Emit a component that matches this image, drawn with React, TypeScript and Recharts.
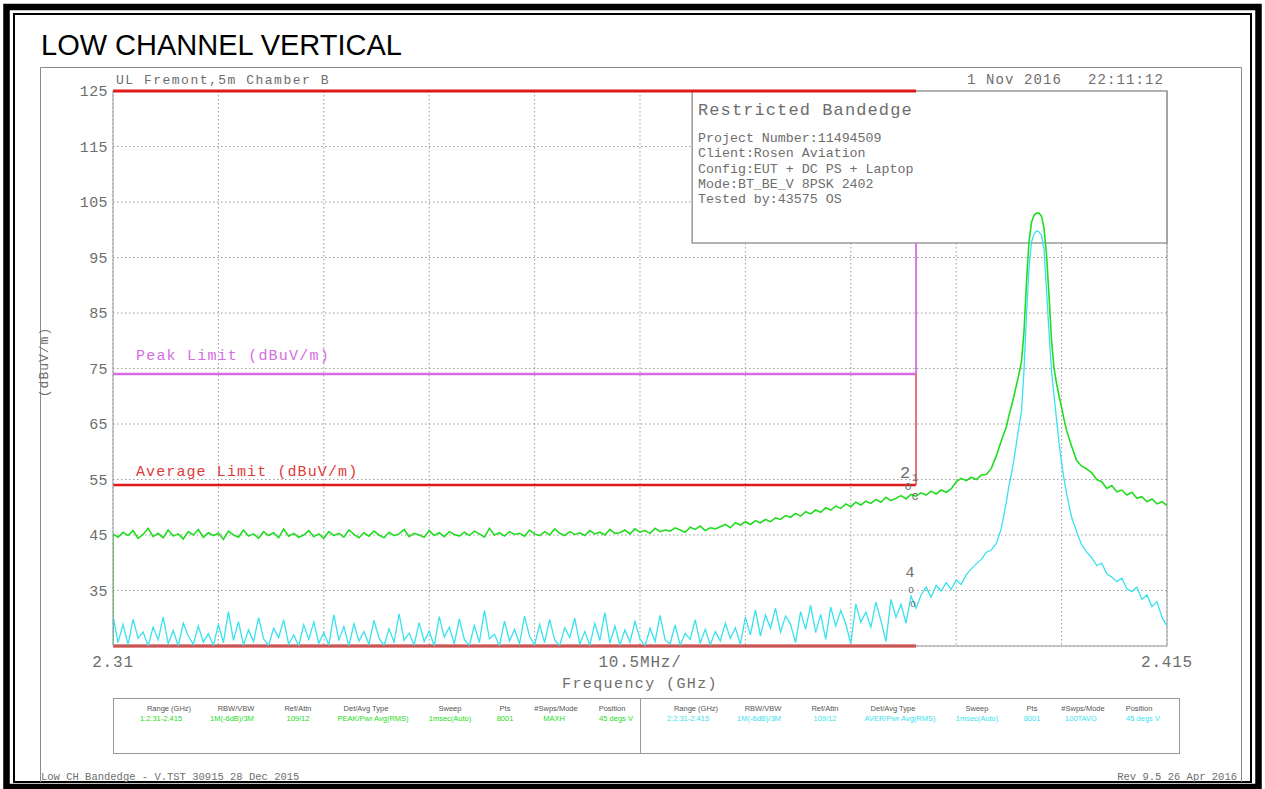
import {
  ComposedChart,
  Line,
  XAxis,
  YAxis,
  CartesianGrid,
  ReferenceLine,
  ReferenceArea,
  ReferenceDot,
} from "recharts";

// sweep frequencies (MHz)
const freqMHz = [
  2310, 2310,
  2310.5, 2311, 2311.5, 2312, 2312.5, 2313, 2313.5, 2314, 2314.5, 2315,
  2315.5, 2316, 2316.5, 2317, 2317.5, 2318, 2318.5, 2319, 2319.5, 2320,
  2320.5, 2321, 2321.5, 2322, 2322.5, 2323, 2323.5, 2324, 2324.5, 2325,
  2325.5, 2326, 2326.5, 2327, 2327.5, 2328, 2328.5, 2329, 2329.5, 2330,
  2330.5, 2331, 2331.5, 2332, 2332.5, 2333, 2333.5, 2334, 2334.5, 2335,
  2335.5, 2336, 2336.5, 2337, 2337.5, 2338, 2338.5, 2339, 2339.5, 2340,
  2340.5, 2341, 2341.5, 2342, 2342.5, 2343, 2343.5, 2344, 2344.5, 2345,
  2345.5, 2346, 2346.5, 2347, 2347.5, 2348, 2348.5, 2349, 2349.5, 2350,
  2350.5, 2351, 2351.5, 2352, 2352.5, 2353, 2353.5, 2354, 2354.5, 2355,
  2355.5, 2356, 2356.5, 2357, 2357.5, 2358, 2358.5, 2359, 2359.5, 2360,
  2360.5, 2361, 2361.5, 2362, 2362.5, 2363, 2363.5, 2364, 2364.5, 2365,
  2365.5, 2366, 2366.5, 2367, 2367.5, 2368, 2368.5, 2369, 2369.5, 2370,
  2370.5, 2371, 2371.5, 2372, 2372.5, 2373, 2373.5, 2374, 2374.5, 2375,
  2375.5, 2376, 2376.5, 2377, 2377.5, 2378, 2378.5, 2379, 2379.5, 2380,
  2380.5, 2381, 2381.5, 2382, 2382.5, 2383, 2383.5, 2384, 2384.5, 2385,
  2385.5, 2386, 2386.5, 2387, 2387.5, 2388, 2388.5, 2389, 2389.5, 2390,
  2390.5, 2391, 2391.5, 2392, 2392.5, 2393, 2393.5, 2394, 2394.5, 2395,
  2395.5, 2396, 2396.5, 2397, 2397.5, 2398, 2398.5, 2399,
  2399.25, 2399.5, 2399.75, 2400, 2400.25, 2400.5, 2400.75, 2401, 2401.25, 2401.5, 2401.75, 2402,
  2402.25, 2402.5, 2402.75, 2403, 2403.25, 2403.5, 2403.75, 2404, 2404.25, 2404.5, 2404.75, 2405,
  2405.5, 2406, 2406.5, 2407, 2407.5, 2408, 2408.5, 2409, 2409.5, 2410,
  2410.5, 2411, 2411.5, 2412, 2412.5, 2413, 2413.5, 2414, 2414.5, 2415,
];

// trace 1: peak detector (dBuV/m)
const peakTrace = [
  25, 45.2,
  44.6, 45.5, 44.9, 45.8, 44.4, 45.1, 46.2, 44.7, 45.3, 44.5,
  45.9, 44.8, 45.2, 44.3, 45.6, 45.0, 46.0, 44.6, 45.4, 44.9,
  45.3, 44.2, 45.7, 45.0, 44.6, 45.9, 44.8, 45.2, 44.4, 45.6,
  44.9, 45.4, 44.5, 46.1, 44.8, 45.3, 44.6, 45.0, 45.8, 44.7,
  45.2, 44.4, 45.6, 44.9, 45.3, 44.6, 45.9, 45.1, 44.5, 45.4,
  44.8, 45.7, 45.0, 44.5, 45.5, 44.9, 45.2, 46.0, 44.7, 45.3,
  45.0, 44.6, 45.8, 44.9, 45.4, 44.7, 45.6, 45.1, 44.8, 45.5,
  44.9, 45.7, 45.2, 44.6, 46.2, 45.0, 45.4, 44.8, 45.6, 45.1,
  45.3, 44.8, 45.9, 45.2, 44.9, 45.6, 45.0, 46.1, 45.3, 44.9,
  45.6, 45.1, 45.4, 44.9, 45.8, 45.2, 45.5, 45.0, 46.0, 45.3,
  45.4, 45.9, 45.2, 46.1, 45.5, 45.8, 45.3, 46.2, 45.6, 45.9,
  45.7, 46.3, 45.9, 45.5, 46.4, 46.0, 46.6, 45.8, 46.3, 46.1,
  46.5, 46.9, 46.3, 47.2, 46.8, 47.4, 46.9, 47.6, 47.2, 47.8,
  47.4, 48.1, 47.8, 48.5, 48.2, 48.9, 48.4, 49.2, 48.8, 49.5,
  49.1, 49.9, 49.5, 50.2, 49.8, 50.6, 50.1, 50.9, 50.4, 51.1,
  50.7, 51.4, 50.9, 51.8, 51.2, 51.6, 52.1, 51.5, 52.3, 52.0,
  52.6, 52.2, 52.9, 52.4, 53.1, 52.7, 53.3, 54.6, 55.2, 54.8,
  55.4, 55.0, 55.8, 55.9, 57.0, 59.3, 62.0, 64.5,
  66.5, 68.2, 70.0, 72.0, 74.0, 76.2, 81.5, 90.5, 97.8, 101.3, 102.6, 103.0,
  103.0, 102.4, 100.3, 95.5, 88.0, 80.0, 75.0, 72.3, 70.0, 68.0, 65.8, 63.8,
  61.0, 58.4, 57.4, 56.9, 56.2, 55.0, 54.6, 53.4, 53.9, 52.8,
  53.1, 52.2, 52.7, 51.6, 51.9, 51.0, 51.5, 50.6, 51.0, 50.3,
];

// trace 2: average detector (dBuV/m)
const avgTrace = [
  25, 30.5,
  25.6, 28.9, 25.2, 29.8, 26.4, 27.5, 25.0, 28.4, 26.1, 30.2,
  25.4, 27.8, 25.0, 29.1, 26.8, 25.3, 28.6, 25.7, 27.2, 25.1,
  28.9, 25.6, 31.2, 26.0, 29.4, 25.2, 27.9, 25.8, 30.1, 26.3,
  25.1, 28.2, 26.5, 29.7, 25.3, 27.0, 25.0, 28.8, 26.2, 29.3,
  25.5, 27.4, 25.2, 30.6, 26.1, 28.5, 25.0, 29.0, 25.9, 27.6,
  25.3, 29.6, 26.4, 25.1, 28.1, 25.7, 30.8, 26.0, 27.3, 25.2,
  29.2, 25.8, 27.7, 25.0, 30.3, 26.6, 28.4, 25.4, 29.9, 26.2,
  25.1, 28.7, 25.6, 31.4, 26.3, 27.1, 25.0, 29.5, 25.9, 28.0,
  25.4, 30.4, 26.7, 25.2, 28.9, 25.6, 29.8, 26.1, 25.0, 28.3,
  26.5, 30.0, 25.3, 27.6, 25.1, 29.1, 26.0, 31.0, 25.5, 28.6,
  25.2, 27.9, 25.7, 29.4, 26.3, 25.0, 28.2, 25.8, 30.5, 26.1,
  25.4, 28.8, 25.1, 27.3, 26.2, 29.7, 25.5, 28.0, 25.2, 27.6,
  25.9, 29.1, 26.4, 28.3, 25.3, 30.2, 27.0, 31.5, 26.8, 30.6,
  28.2, 31.8, 27.5, 30.4, 28.9, 25.6, 31.2, 28.0, 32.3, 27.4,
  30.7, 26.2, 32.0, 28.6, 31.4, 29.0, 25.4, 32.6, 29.3, 31.1,
  28.4, 32.9, 29.6, 25.8, 33.4, 30.2, 32.5, 29.1, 34.0, 31.8,
  34.2, 35.6, 33.8, 35.9, 34.9, 36.4, 35.2, 36.9, 36.1, 37.8,
  38.9, 39.8, 40.6, 41.9, 42.3, 43.5, 46.2, 51.0,
  53.8, 56.0, 58.6, 61.5, 64.5, 67.2, 74.5, 84.5, 93.0, 97.8, 99.2, 99.8,
  99.6, 99.0, 96.5, 89.0, 81.5, 74.5, 70.0, 65.8, 61.5, 58.0, 55.0, 52.4,
  48.2, 45.6, 43.2, 41.9, 40.9, 39.5, 39.9, 38.0, 37.4, 36.6,
  37.2, 35.3, 34.8, 35.6, 33.4, 34.2, 32.1, 33.0, 30.2, 28.6,
];

const xTicks = [2310, 2320.5, 2331, 2341.5, 2352, 2362.5, 2373, 2383.5, 2394, 2404.5, 2415];
const xTickLabels = ["2.31", "", "", "", "", "10.5MHz/", "", "", "", "", "2.415"];
const yTicks = [25, 35, 45, 55, 65, 75, 85, 95, 105, 115, 125];

// limits and restricted band
const bandStart = 2310;
const bandEdge = 2390;
const refLevel = 125;
const floorLevel = 25;
const peakLimit = 74;
const avgLimit = 54;

// info box corner (freq MHz / level)
const infoFreq = 2367.7;
const infoLevel = 97.6;

// marker numbers as they sit on the screen
const markers = [
  { f: 2388.9, v: 56.4, label: "2", size: 17 },
  { f: 2389.9, v: 55.3, label: "1", size: 10 },
  { f: 2389.2, v: 53.8, label: "o", size: 12 },
  { f: 2389.9, v: 52.0, label: "c", size: 12 },
  { f: 2389.4, v: 38.4, label: "4", size: 15 },
  { f: 2389.5, v: 35.2, label: "o", size: 10 },
  { f: 2389.7, v: 32.6, label: "o", size: 10 },
];

const infoLines = [
  "Project Number:11494509",
  "Client:Rosen Aviation",
  "Config:EUT + DC PS + Laptop",
  "Mode:BT_BE_V 8PSK 2402",
  "Tested by:43575 OS",
];
const infoBaselines = [142, 157, 173, 188, 203];

const tableHead = ["Range (GHz)", "RBW/VBW", "Ref/Attn", "Det/Avg Type", "Sweep", "Pts", "#Swps/Mode", "Position"];
const trace1Row = ["1:2.31-2.415", "1M(-6dB)/3M", "109/12", "PEAK/Pwr Avg(RMS)", "1msec(Auto)", "8001", "MAXH", "45 degs V"];
const trace2Row = ["2:2.31-2.415", "1M(-6dB)/3M", "109/12", "AVER/Pwr Avg(RMS)", "1msec(Auto)", "8001", "100TAVG", "45 degs V"];

const data = freqMHz.map((f, i) => ({ f, peak: peakTrace[i], avg: avgTrace[i] }));

const MONO = "'Liberation Mono', 'DejaVu Sans Mono', monospace";
const SANS = "'Liberation Sans', Arial, sans-serif";
const INK = "#6e6e6e";
const GREEN = "#22dc22";
const CYAN = "#38e2ee";
const RED = "#e01818";
const MAGENTA = "#d46ee2";
const FRAME = "#9a9a9a";

const headX = [56, 123, 185, 253, 337, 392, 443, 499];
const valX = [48, 119, 185, 260, 337, 392, 441, 503];

function XTick(props: any) {
  const { x, y, payload } = props;
  const i = xTicks.indexOf(payload.value);
  return (
    <text x={x} y={y} dy={21} textAnchor="middle" fontFamily={MONO} fontSize={16} letterSpacing={0.8} fill={INK}>
      {xTickLabels[i] ?? ""}
    </text>
  );
}

function YTick(props: any) {
  const { x, y, payload } = props;
  if (payload.value === floorLevel) return null;
  return (
    <text x={x} y={y} dy={5} textAnchor="end" fontFamily={MONO} fontSize={15} letterSpacing={0.4} fill={INK}>
      {payload.value}
    </text>
  );
}

function TableHalf({ x0, row, color }: { x0: number; row: string[]; color: string }) {
  return (
    <g fontFamily={SANS} fontSize={7.5}>
      {tableHead.map((t, i) => (
        <text key={"h" + i} x={x0 + headX[i]} y={711} textAnchor="middle" fill="#555">
          {t}
        </text>
      ))}
      {row.map((t, i) => (
        <text key={"v" + i} x={x0 + valX[i]} y={721} textAnchor="middle" fill={color}>
          {t}
        </text>
      ))}
    </g>
  );
}

export default function App() {
  return (
    <div style={{ position: "absolute", left: 0, top: 0, width: 1265, height: 789, background: "#fff" }}>
      <div style={{ position: "absolute", left: 0, top: 0 }}>
        <ComposedChart width={1265} height={789} data={data} margin={{ top: 91, right: 98, bottom: 113, left: 53 }}>
          <CartesianGrid stroke="#9c9c9c" strokeDasharray="1.5 2.5" />
          <XAxis
            type="number"
            dataKey="f"
            domain={[2310, 2415]}
            ticks={xTicks}
            interval={0}
            height={30}
            tickSize={0}
            tickMargin={0}
            tickLine={false}
            axisLine={{ stroke: FRAME }}
            tick={<XTick />}
            allowDataOverflow
          />
          <YAxis
            type="number"
            domain={[floorLevel, refLevel]}
            ticks={yTicks}
            interval={0}
            width={60}
            tickSize={0}
            tickMargin={5}
            tickLine={false}
            axisLine={{ stroke: FRAME }}
            tick={<YTick />}
            allowDataOverflow
          />
          <ReferenceArea
            x1={infoFreq}
            x2={2415}
            y1={infoLevel}
            y2={refLevel}
            fill="#ffffff"
            fillOpacity={1}
            stroke={FRAME}
            strokeWidth={1.5}
          />
          <ReferenceLine x={2415} stroke={FRAME} strokeWidth={1} />
          <ReferenceLine segment={[{ x: bandStart, y: refLevel }, { x: bandEdge, y: refLevel }]} stroke={RED} strokeWidth={3} />
          <ReferenceLine segment={[{ x: bandStart, y: floorLevel }, { x: bandEdge, y: floorLevel }]} stroke={RED} strokeWidth={3} />
          <ReferenceLine segment={[{ x: bandStart, y: peakLimit }, { x: bandEdge, y: peakLimit }]} stroke={MAGENTA} strokeWidth={2.5} />
          <ReferenceLine segment={[{ x: bandEdge, y: peakLimit }, { x: bandEdge, y: infoLevel }]} stroke={MAGENTA} strokeWidth={1.8} />
          <ReferenceLine segment={[{ x: bandStart, y: avgLimit }, { x: bandEdge, y: avgLimit }]} stroke={RED} strokeWidth={2.5} />
          <ReferenceLine segment={[{ x: bandEdge, y: avgLimit }, { x: bandEdge, y: peakLimit }]} stroke="#e06a6a" strokeWidth={1.8} />
          <Line type="linear" dataKey="peak" stroke={GREEN} strokeWidth={1.6} dot={false} isAnimationActive={false} />
          <Line type="linear" dataKey="avg" stroke={CYAN} strokeWidth={1.3} dot={false} isAnimationActive={false} />
          {markers.map((m, i) => (
            <ReferenceDot
              key={i}
              x={m.f}
              y={m.v}
              r={0}
              fill="none"
              stroke="none"
              label={{ value: m.label, position: "center", fill: INK, fontSize: m.size, fontFamily: MONO }}
            />
          ))}
        </ComposedChart>
      </div>

      <svg width={1265} height={789} style={{ position: "absolute", left: 0, top: 0, pointerEvents: "none" }}>
        {/* page frame */}
        <rect x={6.5} y={7} width={1252} height={780} fill="none" stroke="#000" strokeWidth={6.5} />
        <rect x={14} y={14} width={1237} height={768} fill="none" stroke="#000" strokeWidth={2} />
        <path d="M40.5 782 V67.5 H1241.5 V782" fill="none" stroke="#8a8a8a" strokeWidth={1} />

        <text x={41} y={55} fontFamily={SANS} fontSize={29} fill="#000">
          LOW CHANNEL VERTICAL
        </text>

        <g fontFamily={MONO} fill={INK}>
          <text x={116} y={84} fontSize={13} letterSpacing={1.5}>UL Fremont,5m Chamber B</text>
          <text x={967} y={84} fontSize={14} letterSpacing={1.1}>1 Nov 2016</text>
          <text x={1088} y={84} fontSize={14} letterSpacing={1.1}>22:11:12</text>

          <text x={698} y={115} fontSize={17} letterSpacing={1.1}>Restricted Bandedge</text>
          {infoLines.map((t, i) => (
            <text key={i} x={698} y={infoBaselines[i]} fontSize={13.3}>
              {t}
            </text>
          ))}

          <text x={48} y={362} fontSize={13} letterSpacing={1} textAnchor="middle" transform="rotate(-90 48 362)">
            (dBuV/m)
          </text>
          <text x={136} y={360} fontSize={15} letterSpacing={1.2} fill={MAGENTA}>Peak Limit (dBuV/m)</text>
          <text x={136} y={476} fontSize={15} letterSpacing={1.1} fill="#e03a3a">Average Limit (dBuV/m)</text>
          <text x={640} y={688} fontSize={15} letterSpacing={1.4} textAnchor="middle">Frequency (GHz)</text>

          <text x={41} y={780} fontSize={10.5}>Low CH Bandedge - V.TST 30915 28 Dec 2015</text>
          <text x={1237} y={780} fontSize={10.5} textAnchor="end">Rev 9.5 26 Apr 2016</text>
        </g>

        {/* settings table */}
        <rect x={113.5} y={698.5} width={1066} height={55} fill="none" stroke={FRAME} strokeWidth={1} />
        <line x1={640.5} y1={698.5} x2={640.5} y2={753.5} stroke={FRAME} strokeWidth={1} />
        <TableHalf x0={113} row={trace1Row} color={GREEN} />
        <TableHalf x0={640} row={trace2Row} color={CYAN} />
      </svg>
    </div>
  );
}
